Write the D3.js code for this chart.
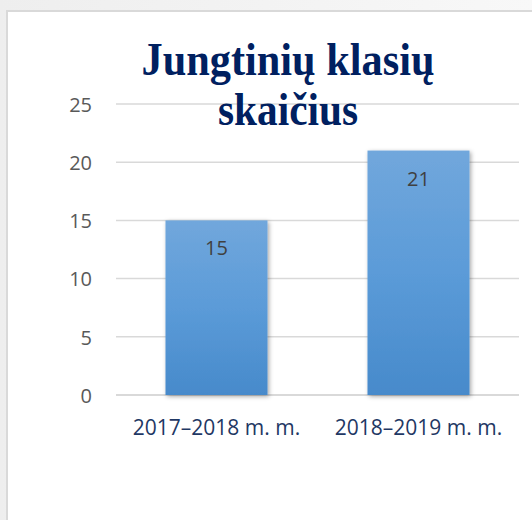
<!DOCTYPE html>
<html>
<head>
<meta charset="utf-8">
<script src="https://d3js.org/d3.v7.min.js"></script>
<style>
  html, body { margin: 0; padding: 0; background: #f3f3f3; }
  svg { display: block; }
</style>
</head>
<body>
<script>
const categories = ["2017–2018 m. m.", "2018–2019 m. m."];
const values = [15, 21];
const yTicks = [0, 5, 10, 15, 20, 25];
const titleLines = ["Jungtinių klasių", "skaičius"];

const W = 532, H = 520;
const svg = d3.select("body").append("svg").attr("width", W).attr("height", H);
const defs = svg.append("defs");

const bg = defs.append("linearGradient").attr("id", "bgGrad").attr("x1", 0).attr("x2", 1).attr("y1", 0).attr("y2", 0);
bg.append("stop").attr("offset", "0%").attr("stop-color", "#eeeeee");
bg.append("stop").attr("offset", "100%").attr("stop-color", "#f8f8f8");

const g1 = defs.append("linearGradient").attr("id", "barGrad").attr("x1", 0).attr("x2", 0).attr("y1", 0).attr("y2", 1);
g1.append("stop").attr("offset", "0%").attr("stop-color", "#71a7dc");
g1.append("stop").attr("offset", "50%").attr("stop-color", "#5b9bd8");
g1.append("stop").attr("offset", "100%").attr("stop-color", "#478acb");

const f = defs.append("filter").attr("id", "shadow").attr("x", "-20%").attr("y", "-10%").attr("width", "140%").attr("height", "120%");
f.append("feDropShadow").attr("dx", 1.5).attr("dy", 1.5).attr("stdDeviation", 2).attr("flood-color", "#000").attr("flood-opacity", 0.35);

// outer background and frame
svg.append("rect").attr("x", 0).attr("y", 0).attr("width", W).attr("height", H).attr("fill", "url(#bgGrad)");
svg.append("rect").attr("x", 7).attr("y", 11).attr("width", W + 20).attr("height", H + 20)
  .attr("fill", "#ffffff").attr("stroke", "#d9d9d9").attr("stroke-width", 2);

const plot = { left: 116, right: 519, top: 104, bottom: 395 };

const x = d3.scaleBand().domain(categories).range([plot.left, plot.right]).paddingInner(0.495).paddingOuter(0.245);
const y = d3.scaleLinear().domain([0, 25]).range([plot.bottom, plot.top]);

// gridlines
svg.append("g").selectAll("line").data(yTicks).join("line")
  .attr("x1", plot.left).attr("x2", plot.right)
  .attr("y1", d => y(d)).attr("y2", d => y(d))
  .attr("stroke", "#d9d9d9").attr("stroke-width", d => d === 0 ? 2 : 1.5);

// y axis labels
const yAxis = d3.axisLeft(y).tickValues(yTicks).tickSize(0).tickPadding(0);
const ya = svg.append("g").attr("transform", `translate(${92},0)`).call(yAxis);
ya.select(".domain").remove();
ya.selectAll("text").attr("font-family", "'Open Sans', sans-serif").attr("font-size", 20)
  .attr("fill", "#595959").attr("dy", "0.36em");

// bars
svg.append("g").selectAll("rect").data(values).join("rect")
  .attr("x", (d, i) => x(categories[i]))
  .attr("width", x.bandwidth())
  .attr("y", d => y(d))
  .attr("height", d => y(0) - y(d))
  .attr("fill", "url(#barGrad)")
  .attr("filter", "url(#shadow)");

// value labels
svg.append("g").selectAll("text").data(values).join("text")
  .attr("x", (d, i) => x(categories[i]) + x.bandwidth() / 2)
  .attr("y", d => y(d) + 35)
  .attr("text-anchor", "middle")
  .attr("font-family", "'Open Sans', sans-serif").attr("font-size", 20)
  .attr("fill", "#404040")
  .text(d => d);

// x axis labels
const xAxis = d3.axisBottom(x).tickSize(0).tickPadding(0);
const xa = svg.append("g").attr("transform", `translate(0,${plot.bottom})`).call(xAxis);
xa.select(".domain").remove();
xa.selectAll("text").attr("font-family", "'Open Sans', sans-serif").attr("font-size", 21)
  .attr("fill", "#1f3864").attr("dy", null).attr("y", 40);

// title
const titleWidths = [293, 140];
svg.append("g").selectAll("text").data(titleLines).join("text")
  .attr("x", 288)
  .attr("y", (d, i) => 75 + i * 49.5)
  .attr("text-anchor", "middle")
  .attr("font-family", "'Liberation Serif', 'Times New Roman', serif")
  .attr("font-weight", "bold")
  .attr("font-size", 47)
  .attr("fill", "#002060")
  .attr("textLength", (d, i) => titleWidths[i])
  .attr("lengthAdjust", "spacingAndGlyphs")
  .text(d => d);
</script>
</body>
</html>
